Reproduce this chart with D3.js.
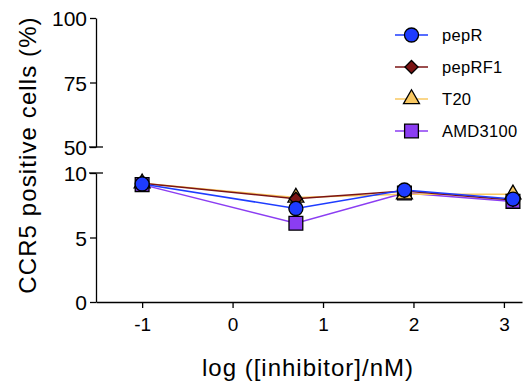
<!DOCTYPE html>
<html><head><meta charset="utf-8">
<script src="https://cdn.jsdelivr.net/npm/d3@7"></script>
<style>body{margin:0;background:#fff}svg{display:block}text{font-family:"Liberation Sans",Arial,sans-serif}</style>
</head><body>
<script>
const xValues = [-1, 0.7, 1.9, 3.1];
const seriesNames = ["pepR", "pepRF1", "T20", "AMD3100"];
const pepR = [9.15, 7.25, 8.68, 7.98];
const pepRF1 = [9.2, 8.0, 8.6, 7.9];
const T20 = [9.2, 8.1, 8.35, 8.35];
const AMD3100 = [9.1, 6.1, 8.45, 7.8];
const xTicks = [-1, 0, 1, 2, 3];
const yTicksLow = [0, 5, 10];
const yTicksHigh = [50, 75, 100];

const colors = {pepR:"#1e3cff", pepRF1:"#7b1414", T20:"#f8c862", AMD3100:"#8b3df2"};
const shapes = {pepR:d3.symbolCircle, pepRF1:(d3.symbolDiamond2||d3.symbolDiamond), T20:d3.symbolTriangle, AMD3100:d3.symbolSquare};
const sizes = {pepR:155, pepRF1:110, T20:110, AMD3100:190};
const data = {pepR, pepRF1, T20, AMD3100};

const W=523,H=385;
const svg=d3.select("body").append("svg").attr("width",W).attr("height",H);
const axisX=96;
const x=d3.scaleLinear().domain([-1.51,3.2]).range([axisX,522]);
const yLow=d3.scaleLinear().domain([0,10]).range([302,173]);
const yHigh=d3.scaleLinear().domain([50,100]).range([147,18]);

// y axis segments
const gLow=svg.append("g").attr("transform",`translate(${axisX},0)`)
  .call(d3.axisLeft(yLow).tickValues(yTicksLow).tickSize(6).tickPadding(3).tickSizeOuter(0));
const gHigh=svg.append("g").attr("transform",`translate(${axisX},0)`)
  .call(d3.axisLeft(yHigh).tickValues(yTicksHigh).tickSize(6).tickPadding(3).tickSizeOuter(0));
[gLow,gHigh].forEach(g=>{
  g.select(".domain").attr("stroke","#000").attr("stroke-width",1.3);
  g.selectAll(".tick line").attr("stroke","#000").attr("stroke-width",1.3);
  g.selectAll(".tick text").attr("font-size",21).attr("fill","#000").attr("dy","0.36em");
});
// break caps
[yLow(10),yHigh(50)].forEach(yy=>{
  svg.append("line").attr("x1",axisX-7).attr("x2",axisX+7).attr("y1",yy).attr("y2",yy)
    .attr("stroke","#000").attr("stroke-width",1.3);
});

// x axis
const gx=svg.append("g").attr("transform",`translate(0,${yLow(0)})`)
  .call(d3.axisBottom(x).tickValues(xTicks).tickFormat(d=>String(d)).tickSize(6).tickPadding(10).tickSizeOuter(0));
gx.select(".domain").attr("stroke","#000").attr("stroke-width",1.3);
gx.selectAll(".tick line").attr("stroke","#000").attr("stroke-width",1.3);
gx.selectAll(".tick text").attr("font-size",19).attr("fill","#000");

// titles
svg.append("text").attr("x",308).attr("y",376).attr("text-anchor","middle").attr("font-size",24)
  .attr("letter-spacing","1px").text("log ([inhibitor]/nM)");
svg.append("text").attr("transform","translate(36,155) rotate(-90)").attr("text-anchor","middle").attr("font-size",24)
  .attr("letter-spacing","1.1px").text("CCR5 positive cells (%)");

// series (draw reversed so pepR on top)
const line=d3.line().x((d,i)=>x(xValues[i])).y(d=>yLow(d));
[...seriesNames].reverse().forEach(n=>{
  svg.append("path").datum(data[n]).attr("d",line).attr("fill","none")
    .attr("stroke",colors[n]).attr("stroke-width",1.5);
});
[...seriesNames].reverse().forEach(n=>{
  svg.append("g").selectAll("path").data(data[n]).join("path")
    .attr("transform",(d,i)=>`translate(${x(xValues[i])},${yLow(d)})`)
    .attr("d",d3.symbol().type(shapes[n]).size(sizes[n]))
    .attr("fill",colors[n]).attr("stroke","#000").attr("stroke-width",1.3);
});

// legend
const legY=[35,67,99,131];
seriesNames.forEach((n,i)=>{
  const g=svg.append("g").attr("transform",`translate(0,${legY[i]})`);
  g.append("line").attr("x1",395).attr("x2",428).attr("y1",0).attr("y2",0).attr("stroke",colors[n]).attr("stroke-width",1.5);
  g.append("path").attr("transform","translate(411.5,0)").attr("d",d3.symbol().type(shapes[n]).size(sizes[n]))
    .attr("fill",colors[n]).attr("stroke","#000").attr("stroke-width",1.3);
  g.append("text").attr("x",442).attr("y",0).attr("dy","0.36em").attr("font-size",16.5)
    .attr("letter-spacing","0.3px").text(n);
});
</script>
</body></html>
